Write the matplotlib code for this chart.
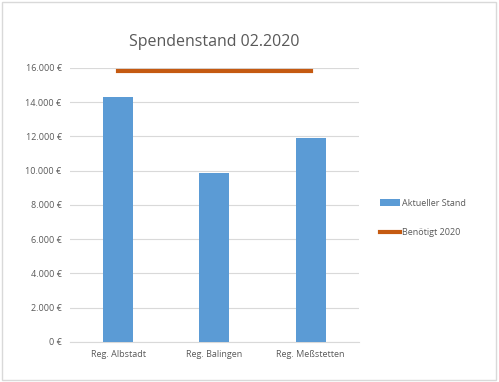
import matplotlib
matplotlib.use("Agg")
import matplotlib.pyplot as plt
from matplotlib.patches import Rectangle

categories = ["Reg. Albstadt", "Reg. Balingen", "Reg. Meßstetten"]
aktuell = [14300, 9850, 11900]
benoetigt = [15800, 15800, 15800]
yticks = [0, 2000, 4000, 6000, 8000, 10000, 12000, 14000, 16000]
ylabels = ["0 €", "2.000 €", "4.000 €", "6.000 €", "8.000 €", "10.000 €", "12.000 €", "14.000 €", "16.000 €"]

plt.rcParams['font.family'] = ['Open Sans', 'DejaVu Sans']
txt = '#595959'

fig = plt.figure(figsize=(4.99, 3.82), dpi=100)
fig.patches.append(Rectangle((0.004, 0.004), 0.99, 0.99, transform=fig.transFigure,
                             fill=False, edgecolor='#d9d9d9', linewidth=1.0))
ax = fig.add_axes([0.140, 0.105, 0.579, 0.717])
x = list(range(len(categories)))
bars = ax.bar(x, aktuell, width=0.31, color='#5B9BD5', label='Aktueller Stand', zorder=3)
line, = ax.plot(x, benoetigt, color='#C55A11', linewidth=3, label='Benötigt 2020', zorder=4)
ax.set_xlim(-0.5, 2.5)
ax.set_ylim(0, 16000)
ax.set_yticks(yticks)
ax.set_yticklabels(ylabels)
ax.set_xticks(x)
ax.set_xticklabels(categories)
ax.tick_params(axis='both', length=0, labelsize=6.5, labelcolor=txt, pad=6)
ax.grid(axis='y', color='#d9d9d9', linewidth=0.8, zorder=0)
for s in ['top', 'right', 'left']:
    ax.spines[s].set_visible(False)
ax.spines['bottom'].set_color('#d9d9d9')
ax.set_title("Spendenstand 02.2020", fontsize=11.5, color=txt, pad=16)
fig.legend([bars, line], ['Aktueller Stand', 'Benötigt 2020'],
           loc='center left', bbox_to_anchor=(0.745, 0.43), frameon=False,
           fontsize=6.5, labelcolor=txt, handlelength=2.2, labelspacing=2.2,
           handletextpad=0.3)
fig.savefig("out.png", dpi=100)
